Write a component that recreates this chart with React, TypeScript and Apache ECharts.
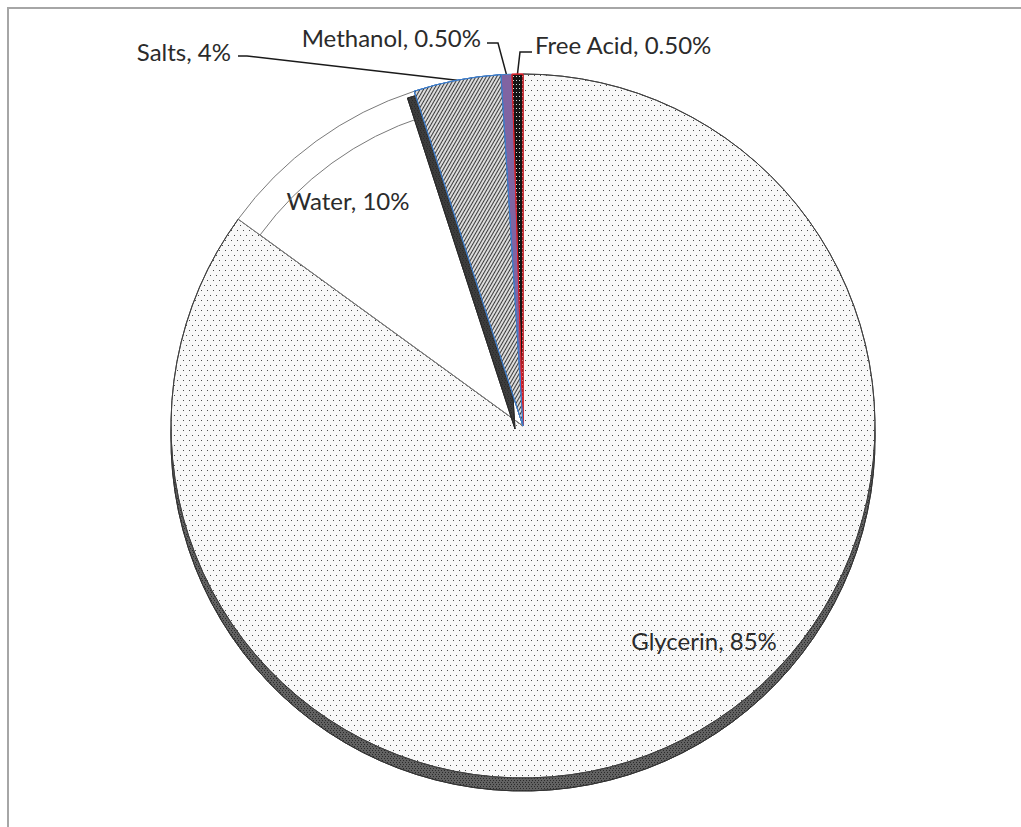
import { useEffect, useRef } from 'react';
import * as echarts from 'echarts';

// Composition of crude glycerin (mass %)
const categories = ['Glycerin', 'Water', 'Salts', 'Methanol', 'Free Acid'];
const shares = [85, 10, 4, 0.5, 0.5];
const shareLabels = ['85%', '10%', '4%', '0.50%', '0.50%'];

const CENTER: [number, number] = [523, 426];
const RADIUS = 352;
const DEPTH = 13;

// label anchor, alignment and the elbow of the leader line (if any)
const labelSpots: { x: number; y: number; align: string; elbow?: number[][] }[] = [
  { x: 704, y: 640, align: 'center' },
  { x: 348, y: 200, align: 'center' },
  { x: 231, y: 51, align: 'right', elbow: [[247, 56], [238, 56]] },
  { x: 481, y: 37, align: 'right', elbow: [[498, 43], [487, 43]] },
  { x: 535, y: 44, align: 'left', elbow: [[520, 52], [532, 52]] },
];

const dotted = {
  symbol: 'rect',
  symbolSize: 1,
  color: '#4a4a4a',
  dashArrayX: [[1, 5], [0, 3, 1, 2]],
  dashArrayY: [1, 4],
};

const hatched = {
  symbol: 'rect',
  symbolSize: 1,
  color: '#3a3a3a',
  dashArrayX: [1, 0],
  dashArrayY: [1, 2],
  rotation: -Math.PI / 3,
};

const speckled = {
  symbol: 'rect',
  symbolSize: 1,
  color: '#d8d8d8',
  dashArrayX: [1, 2],
  dashArrayY: [1, 3],
};

const sideDots = {
  symbol: 'rect',
  symbolSize: 1,
  color: '#2a2a2a',
  dashArrayX: [[1, 2], [0, 1, 1, 1]],
  dashArrayY: [1, 1],
};

const sliceStyles = [
  { color: '#f8f8f8', borderColor: '#404040', borderWidth: 1, decal: dotted },
  { color: '#ffffff', borderColor: '#7a7a7a', borderWidth: 1 },
  { color: '#dcdcdc', borderColor: '#3d7cc9', borderWidth: 1, decal: hatched },
  { color: '#8064a2', borderColor: '#3d7cc9', borderWidth: 1 },
  { color: '#141414', borderColor: '#e0202a', borderWidth: 1, decal: speckled },
];

const hidden = { color: 'transparent', borderWidth: 0 };

function pieBase(center: [number, number], radius: number) {
  return {
    type: 'pie',
    center,
    radius,
    startAngle: 90,
    clockwise: true,
    silent: true,
    avoidLabelOverlap: false,
    emphasis: { disabled: true },
    label: { show: false },
    labelLine: { show: false },
  };
}

export default function App() {
  const ref = useRef<HTMLDivElement>(null);

  useEffect(() => {
    if (!ref.current) return;
    const chart = echarts.init(ref.current, undefined, { renderer: 'svg' });

    const textStyle = {
      fontFamily: 'Lato',
      fontSize: 24,
      color: '#2b2b2b',
    };

    const option = {
      animation: false,
      backgroundColor: '#ffffff',
      graphic: [
        {
          type: 'rect',
          z: -10,
          silent: true,
          shape: { x: 8, y: 8, width: 1100, height: 900 },
          style: { fill: 'none', stroke: '#a6a6a6', lineWidth: 2 },
        },
      ],
      series: [
        // side wall of the disc, seen below the top face
        {
          ...pieBase([CENTER[0], CENTER[1] + DEPTH], RADIUS),
          z: 1,
          data: categories.map((name, i) => ({
            name,
            value: shares[i],
            itemStyle: { color: '#626262', borderColor: '#333333', borderWidth: 1, decal: sideDots },
          })),
        },
        // top face with the labels
        {
          ...pieBase(CENTER, RADIUS),
          z: 2,
          label: {
            show: true,
            position: 'outside',
            ...textStyle,
            formatter: (p: any) => `${p.name}, ${shareLabels[p.dataIndex]}`,
          },
          labelLine: {
            show: true,
            lineStyle: { color: '#1a1a1a', width: 1.5 },
          },
          labelLayout: (params: any) => {
            const spot = labelSpots[params.dataIndex];
            const out: any = { x: spot.x, y: spot.y, align: spot.align, verticalAlign: 'middle' };
            if (spot.elbow && params.labelLinePoints) {
              out.labelLinePoints = [params.labelLinePoints[0], ...spot.elbow];
            }
            return out;
          },
          data: categories.map((name, i) => ({
            name,
            value: shares[i],
            itemStyle: sliceStyles[i],
            label: i < 2 ? { position: 'inside' } : undefined,
            labelLine: i < 2 ? { show: false } : undefined,
          })),
        },
        // rim line inside the water slice
        {
          ...pieBase(CENTER, RADIUS - 27),
          z: 3,
          data: categories.map((name, i) => ({
            name,
            value: shares[i],
            itemStyle: i === 1 ? { color: 'transparent', borderColor: '#7a7a7a', borderWidth: 1 } : hidden,
          })),
        },
        // dark cut face along the salts wedge
        {
          ...pieBase([CENTER[0] - 8, CENTER[1] + 3], RADIUS - 4),
          z: 4,
          data: categories.map((name, i) => ({
            name,
            value: shares[i],
            itemStyle: i === 2 ? { color: '#3c3c3c', borderColor: '#2a2a2a', borderWidth: 1, decal: sideDots } : hidden,
          })),
        },
        // salts wedge redrawn over its cut face
        {
          ...pieBase(CENTER, RADIUS),
          z: 5,
          data: categories.map((name, i) => ({
            name,
            value: shares[i],
            itemStyle: i === 2 ? sliceStyles[2] : hidden,
          })),
        },
      ],
    };

    chart.setOption(option as any);
    return () => chart.dispose();
  }, []);

  return (
    <div
      ref={ref}
      style={{ position: 'absolute', left: 0, top: 0, width: 1021, height: 827 }}
    />
  );
}
